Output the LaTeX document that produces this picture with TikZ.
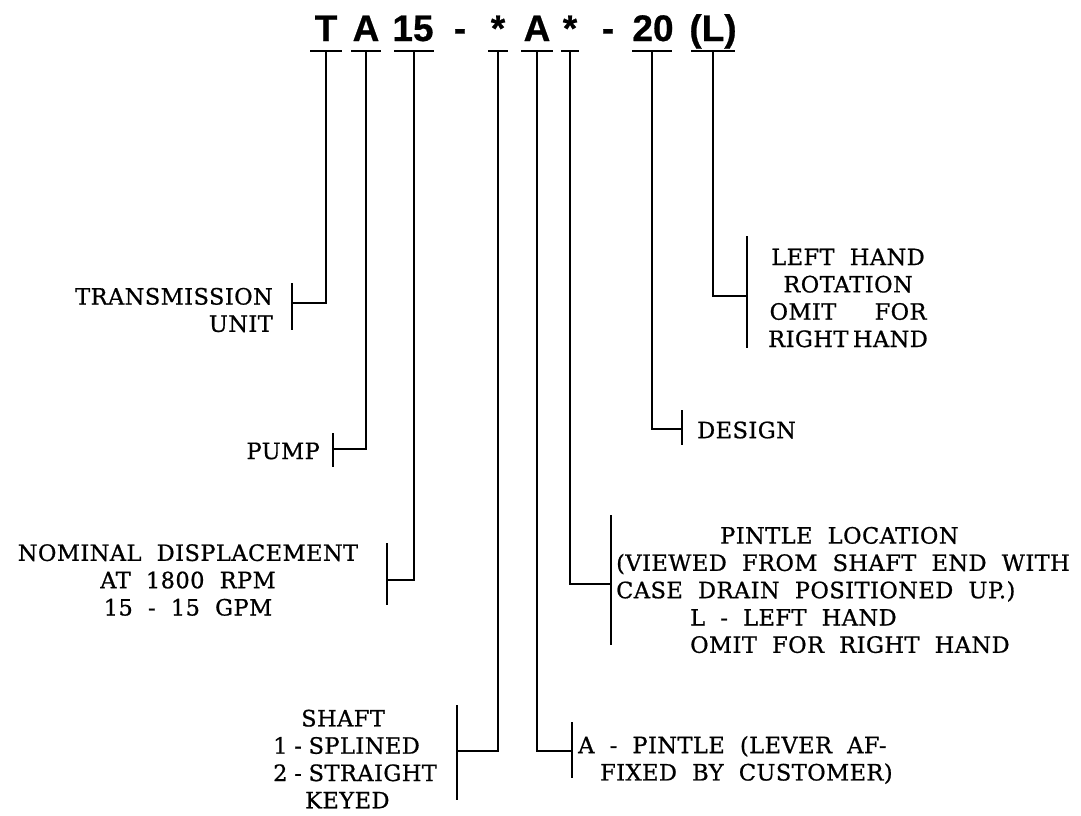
\documentclass[tikz,border=0pt]{standalone}
\usepackage{fontspec}
\setmainfont{DejaVu Serif}[LetterSpace=2.0, WordSpace=2.0, FakeBold=0.8]
\newfontfamily\codefont{Liberation Sans}[FakeBold=0.6]
\usetikzlibrary{positioning}

\begin{document}
\begin{tikzpicture}[x=1pt, y=-1pt,
        code/.style={font=\codefont\bfseries\fontsize{37}{37}\selectfont, inner sep=0pt, anchor=base},
        lbl/.style={font=\fontsize{22.5}{27.3}\selectfont, inner sep=0pt},
        wire/.style={line width=2.4pt},
        brk/.style={line width=2.4pt}]
      \useasboundingbox (0,0) rectangle (1081,815);

      % model code
      \node[code] (cT)  at (326,41) {T};
      \node[code] (cA)  at (366,41) {A};
      \node[code] (c15) at (413,41) {15};
      \node[code] (cd1) at (460,41) {-};
      \node[code] (cs1) at (498,41) {*};
      \node[code] (cA2) at (537,41) {A};
      \node[code] (cs2) at (570,41) {*};
      \node[code] (cd2) at (608,41) {-};
      \node[code] (c20) at (653,41) {20};
      \node[code] (cL)  at (713,41) {(L)};

      % tees under the code
      \foreach \n/\x/\w in {T/326/16, A/366/15, 15/414/20, S/498/10,
                            P/537/16, L/570/9, D/652/20, R/713/22} {
        \draw[wire] (\x-\w,51) -- (\x+\w,51);
        \coordinate (t\n) at (\x,51);
      }

      % brackets
      \draw[brk] (292,283) -- (292,330); \coordinate (bT)  at (292,303);
      \draw[brk] (333,433) -- (333,467); \coordinate (bA)  at (333,449);
      \draw[brk] (387,543) -- (387,605); \coordinate (b15) at (387,580);
      \draw[brk] (457,705) -- (457,800); \coordinate (bS)  at (457,751);
      \draw[brk] (572,722) -- (572,778); \coordinate (bP)  at (572,751);
      \draw[brk] (611,515) -- (611,645); \coordinate (bL)  at (611,584);
      \draw[brk] (682,410) -- (682,445); \coordinate (bD)  at (682,429);
      \draw[brk] (747,236) -- (747,348); \coordinate (bR)  at (747,296);

      % connectors
      \foreach \n in {T, A, 15, S, P, L, D, R}
        \draw[wire] (t\n) |- (b\n);

      % labels
      \node[lbl, anchor=east, align=right] (lT) at (273,310) {TRANSMISSION\\UNIT};
      \node[lbl, anchor=east] (lA) at (320,451) {PUMP};
      \node[lbl, align=center] (l15) at (188,580)
        {NOMINAL DISPLACEMENT\\AT 1800 RPM\\15 - 15 GPM};
      \node[lbl, anchor=west, align=left] (lS) at (273,759)
        {\hspace*{28pt}SHAFT\\1\hspace{.3em}-\hspace{.3em}SPLINED\\2\hspace{.3em}-\hspace{.3em}STRAIGHT\\\hspace*{32pt}KEYED};
      \node[lbl, anchor=west, align=left] (lP) at (578,760)
        {A - PINTLE (LEVER AF-\\\hspace*{22pt}FIXED BY CUSTOMER)};
      \node[lbl, anchor=west, align=left] (lL) at (616,590)
        {\hspace*{104pt}PINTLE LOCATION\\(VIEWED FROM SHAFT END WITH\\CASE DRAIN POSITIONED UP.)\\
         \hspace*{74pt}L - LEFT HAND\\\hspace*{74pt}OMIT FOR RIGHT HAND};
      \node[lbl, anchor=west] (lD) at (697,430) {DESIGN};
      \node[lbl, anchor=west, align=center] (lR) at (768,298)
        {LEFT HAND\\ROTATION\\OMIT\hspace{1.7em}FOR\\RIGHT\hspace{.2em}HAND};
    \end{tikzpicture}
\end{document}
